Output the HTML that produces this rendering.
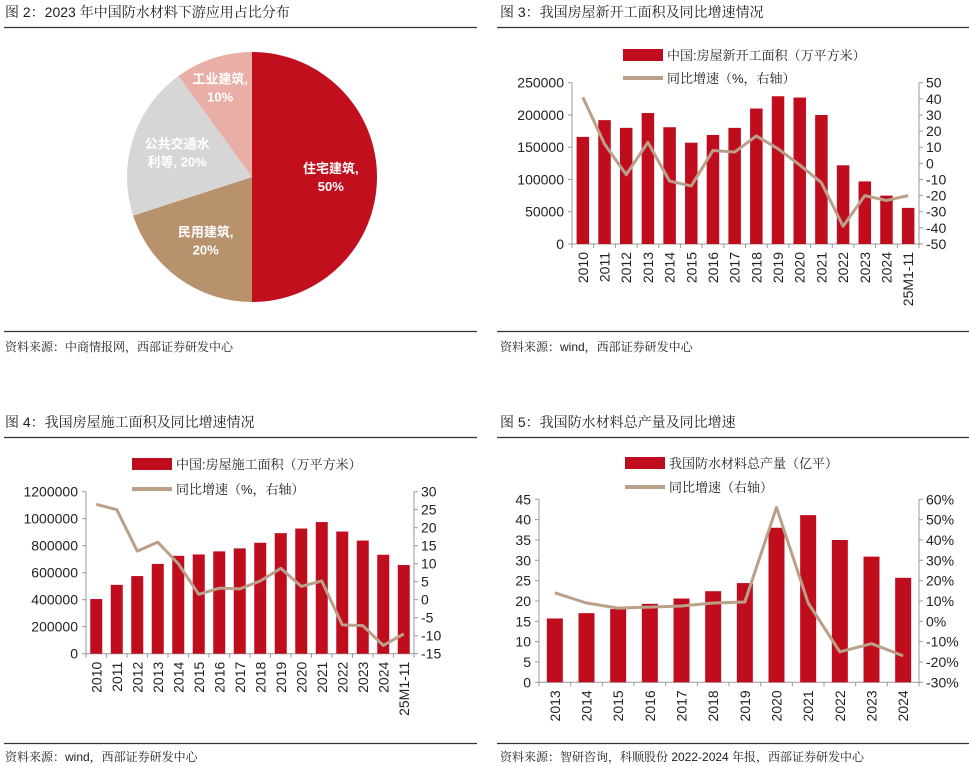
<!DOCTYPE html>
<html><head><meta charset="utf-8">
<style>
body{margin:0;background:#fff;width:969px;height:766px;overflow:hidden;font-family:"Liberation Sans","Noto Sans CJK SC",sans-serif;}
svg{position:absolute;left:0;top:0}
</style></head>
<body>
<svg id="s" width="969" height="766" xmlns="http://www.w3.org/2000/svg" font-family="Liberation Sans, Noto Sans CJK SC, sans-serif">
<g font-size="14" fill="#222" font-family="Liberation Sans, Noto Serif CJK SC, serif">
<text x="5" y="17">图 2：2023 年中国防水材料下游应用占比分布</text>
<text x="500" y="17">图 3：我国房屋新开工面积及同比增速情况</text>
<text x="5" y="427">图 4：我国房屋施工面积及同比增速情况</text>
<text x="500" y="427">图 5：我国防水材料总产量及同比增速</text>
</g>
<g stroke="#333" stroke-width="1.2">
<line x1="4" y1="27.5" x2="477" y2="27.5"/><line x1="497" y1="27.5" x2="969" y2="27.5"/>
<line x1="4" y1="331.5" x2="477" y2="331.5"/><line x1="497" y1="331.5" x2="969" y2="331.5"/>
<line x1="4" y1="437.5" x2="477" y2="437.5"/><line x1="497" y1="437.5" x2="969" y2="437.5"/>
<line x1="4" y1="743.5" x2="477" y2="743.5"/><line x1="497" y1="743.5" x2="969" y2="743.5"/>
</g>
<g font-size="12" fill="#222" font-family="Liberation Sans, Noto Serif CJK SC, serif">
<text x="5" y="351">资料来源：中商情报网，西部证券研发中心</text>
<text x="500" y="351">资料来源：wind，西部证券研发中心</text>
<text x="5" y="761">资料来源：wind，西部证券研发中心</text>
<text x="500" y="761">资料来源：智研咨询，科顺股份 2022-2024 年报，西部证券研发中心</text>
</g>
</svg>
<script>
const pieLabels=["住宅建筑,","民用建筑,","公共交通水","工业建筑,"];
const pieValues=[50,20,20,10];
const fig3Cats=["2010","2011","2012","2013","2014","2015","2016","2017","2018","2019","2020","2021","2022","2023","2024","25M1-11"];
const fig3Bars=[166000,192000,180000,203000,181000,157000,169000,180000,210000,229000,227000,200000,122000,97000,75000,56000];
const fig3Line=[41,12,-7,13,-11,-14,8,7,17,9,-1,-12,-39,-20,-23,-20];
const fig3LeftTicks=[0,50000,100000,150000,200000,250000];
const fig3RightTicks=[-50,-40,-30,-20,-10,0,10,20,30,40,50];
const fig4Cats=fig3Cats.slice();
const fig4Bars=[405000,510000,575000,665000,725000,735000,758000,780000,822000,893000,927000,975000,905000,838000,733000,657000];
const fig4Line=[26.5,25,13.5,16,10,1.5,3.2,3,5.2,8.7,3.7,5.2,-7,-7.2,-12.7,-9.5];
const fig4LeftTicks=[0,200000,400000,600000,800000,1000000,1200000];
const fig4RightTicks=[-15,-10,-5,0,5,10,15,20,25,30];
const fig5Cats=["2013","2014","2015","2016","2017","2018","2019","2020","2021","2022","2023","2024"];
const fig5Bars=[15.7,17,18,19.3,20.6,22.4,24.4,38,41.1,35,30.9,25.7];
const fig5Line=[14,9,6.5,7,7.5,9,9.5,56,9,-15,-11,-17];
const fig5LeftTicks=[0,5,10,15,20,25,30,35,40,45];
const fig5RightTicks=[-30,-20,-10,0,10,20,30,40,50,60];

const NS="http://www.w3.org/2000/svg";
const svg=document.getElementById('s');
function mk(tag,attrs,parent,text){const e=document.createElementNS(NS,tag);for(const k in attrs)e.setAttribute(k,attrs[k]);if(text!==undefined)e.textContent=text;(parent||svg).appendChild(e);return e;}

// Pie
(function(){
 const g=mk('g',{});
 
 
 const cx=252,cy=177,r=125,colors=["#c20f1e","#b8916d","#d6d6d6","#e9afa6"];
 const total=pieValues.reduce((a,b)=>a+b,0);
 let a0=0;
 const subs=["50%","20%","利等, 20%","10%"];
 const lrs=[0.63,0.63,0.63,0.72];
 const dxs=[0,0,0,-4];
 pieValues.forEach((v,i)=>{
  const a1=a0+v/total*2*Math.PI;
  const x0=cx+r*Math.sin(a0),y0=cy-r*Math.cos(a0),x1=cx+r*Math.sin(a1),y1=cy-r*Math.cos(a1);
  const p=mk('path',{d:`M${cx},${cy}L${x0},${y0}A${r},${r} 0 ${a1-a0>Math.PI?1:0} 1 ${x1},${y1}Z`,fill:colors[i]},g);
  
  
  const am=(a0+a1)/2,lr=r*lrs[i];
  const lx=cx+lr*Math.sin(am)+dxs[i],ly=cy-lr*Math.cos(am)+(i==3?-4:0);
  const t=mk('text',{x:lx,y:ly-4,'text-anchor':'middle','font-size':13,fill:'#fff','font-weight':'bold'},g,pieLabels[i]);
  
  
  const t2=mk('text',{x:lx,y:ly+14,'text-anchor':'middle','font-size':13,fill:'#fff','font-weight':'bold'},g,subs[i]);
  
  
  a0=a1;
 });
})();

function combo(o){
 const g=mk('g',{});
 
 
 const lmin=o.lt[0],lmax=o.lt[o.lt.length-1],rmin=o.rt[0],rmax=o.rt[o.rt.length-1];
 const yL=v=>o.y0-(v-lmin)/(lmax-lmin)*(o.y0-o.y1);
 const yR=v=>o.y0-(v-rmin)/(rmax-rmin)*(o.y0-o.y1);
 const n=o.cats.length,step=(o.x1-o.x0)/n;
 const xC=i=>o.x0+step*(i+0.5);
 const ax=mk('g',{stroke:'#999','stroke-width':1},g);
 
 
 mk('line',{x1:o.x0,y1:o.y1,x2:o.x0,y2:o.y0},ax);
 mk('line',{x1:o.x1,y1:o.y1,x2:o.x1,y2:o.y0},ax);
 mk('line',{x1:o.x0,y1:o.y0,x2:o.x1,y2:o.y0},ax);
 o.lt.forEach(v=>{mk('line',{x1:o.x0-4,x2:o.x0,y1:yL(v),y2:yL(v)},ax);
  const t=mk('text',{x:o.x0-8,y:yL(v)+5,'text-anchor':'end','font-size':14,fill:'#222',stroke:'none'},g,v);
  
  });
 o.rt.forEach(v=>{mk('line',{x1:o.x1,x2:o.x1+4,y1:yR(v),y2:yR(v)},ax);
  const t=mk('text',{x:o.x1+7,y:yR(v)+5,'font-size':14,fill:'#222'},g,v+(o.pct?'%':''));
  
  });
 for(let i=0;i<=n;i++)mk('line',{x1:o.x0+step*i,x2:o.x0+step*i,y1:o.y0,y2:o.y0+4},ax);
 o.cats.forEach((c,i)=>{const t=mk('text',{x:0,y:0,'text-anchor':'end','font-size':14,fill:'#222',transform:`translate(${xC(i)+5},${o.y0+8}) rotate(-90)`},g,c);
  
  });
 o.bars.forEach((v,i)=>{const r=mk('rect',{x:xC(i)-o.bw/2,y:yL(v),width:o.bw,height:o.y0-yL(v),fill:'#c00d1e'},g);
  
  });
 const pl=mk('polyline',{points:o.line.map((v,i)=>xC(i)+','+yR(v)).join(' '),fill:'none',stroke:'#bba089','stroke-width':3,'stroke-linejoin':'round'},g);
 
 
 const lg=mk('g',{'font-family':'Liberation Sans, Noto Serif CJK SC, serif'},g);
 
 
 mk('rect',{x:o.lx,y:o.ly1-6,width:40,height:12,fill:'#c00d1e'},lg);
 mk('text',{x:o.lx+44,y:o.ly1+5,'font-size':13,fill:'#222'},lg,o.l1);
 mk('line',{x1:o.lx,x2:o.lx+40,y1:o.ly2,y2:o.ly2,stroke:'#bba089','stroke-width':4},lg);
 mk('text',{x:o.lx+44,y:o.ly2+5,'font-size':13,fill:'#222'},lg,o.l2);
}
combo({name:'fig3-chart',cats:fig3Cats,bars:fig3Bars,line:fig3Line,lt:fig3LeftTicks,rt:fig3RightTicks,x0:572,x1:919,y0:244,y1:82.7,bw:12.5,lx:623,ly1:55,ly2:78,l1:'中国:房屋新开工面积（万平方米）',l2:'同比增速（%，右轴）'});
combo({name:'fig4-chart',cats:fig4Cats,bars:fig4Bars,line:fig4Line,lt:fig4LeftTicks,rt:fig4RightTicks,x0:86,x1:414,y0:653.7,y1:491.7,bw:12,lx:132,ly1:464,ly2:489,l1:'中国:房屋施工面积（万平方米）',l2:'同比增速（%，右轴）'});
combo({name:'fig5-chart',cats:fig5Cats,bars:fig5Bars,line:fig5Line,lt:fig5LeftTicks,rt:fig5RightTicks,pct:true,x0:539,x1:919,y0:682.3,y1:499.3,bw:16,lx:625,ly1:463,ly2:487,l1:'我国防水材料总产量（亿平）',l2:'同比增速（右轴）'});
</script>
</body></html>
